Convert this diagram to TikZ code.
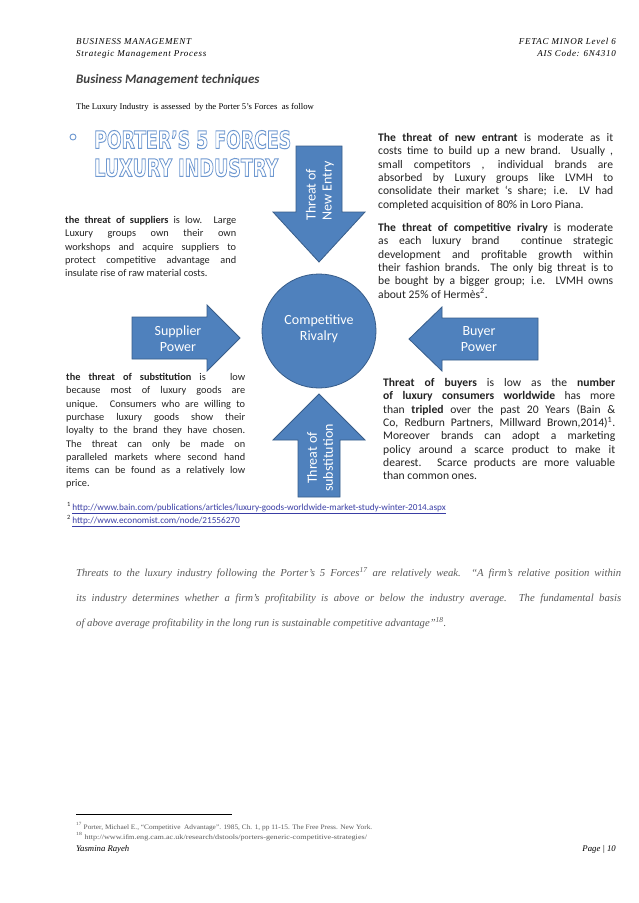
\documentclass[tikz,border=0pt]{standalone}
\usepackage{fontspec}
\usepackage{graphicx}
\setmainfont{Liberation Serif}
\newfontfamily\calibri{Carlito}
\newfontfamily\dejab{DejaVu Sans}
\newfontfamily\hdrfont{Liberation Serif}[LetterSpace=8]
\definecolor{arrowblue}{RGB}{79,129,189}
\definecolor{arrowedge}{RGB}{56,93,138}
\definecolor{titleblue}{RGB}{110,152,208}
\definecolor{titlegray}{RGB}{64,64,64}
\definecolor{paragray}{RGB}{89,89,89}
\definecolor{figgray}{RGB}{35,35,35}
\definecolor{linkblue}{RGB}{58,62,165}
\newlength{\blockw}
\newcommand{\JL}[1]{\hbox to \blockw{#1}}
\newcommand{\LL}[1]{\hbox{#1}}
\newcommand{\outlinetext}[1]{\special{pdf:literal direct 1 Tr 1.0 w}#1\special{pdf:literal direct 0 Tr 0.4 w}}
\tikzset{
  force/.style={fill=arrowblue, draw=arrowedge, line width=0.8pt, line join=miter},
  forcetext/.style={text=white, font=\calibri\fontsize{14}{16}\selectfont, inner sep=0},
  figtext/.style={anchor=base west, inner sep=0, text=figgray, font=\calibri\fontsize{10.3}{13.3}\selectfont},
  figtextr/.style={anchor=base west, inner sep=0, text=figgray, font=\calibri\fontsize{11.6}{13.3}\selectfont},
  pagetext/.style={anchor=base west, inner sep=0, text=black},
  hdr/.style={inner sep=0, font=\hdrfont\itshape\fontsize{9}{10}\selectfont},
}
\begin{document}
\begin{tikzpicture}[x=1pt,y=-1pt]
\path[use as bounding box, fill=white] (0,0) rectangle (638,903);

% ---------- header ----------
\node[hdr, anchor=base west] (hl1) at (76,44) {BUSINESS MANAGEMENT};
\node[hdr, anchor=base west] (hl2) at (76,56) {Strategic Management Process};
\node[hdr, anchor=base east] (hr1) at (616,44) {FETAC MINOR Level 6};
\node[hdr, anchor=base east] (hr2) at (616,56) {AIS Code: 6N4310};

\node[pagetext, text=titlegray, font=\calibri\bfseries\itshape\fontsize{13}{15}\selectfont] (ptitle) at (76,83) {Business Management techniques};
\node[pagetext, font=\fontsize{8.7}{10}\selectfont] (intro) at (76,109) {The Luxury Industry\ \ is assessed\ \ by the Porter 5's Forces\ \ as follow};

% ---------- figure title ----------
\node[circle, draw=titleblue, line width=0.9pt, minimum size=6pt, inner sep=0] (bullet) at (73,137) {};
\node[anchor=south west, inner sep=0] (ftitle1) at (94,149) {\color{titleblue}\resizebox{197pt}{18pt}{\dejab\bfseries\fontsize{24}{24}\selectfont\outlinetext{PORTER’S 5 FORCES}}};
\node[anchor=south west, inner sep=0] (ftitle2) at (94,177) {\color{titleblue}\resizebox{184pt}{18pt}{\dejab\bfseries\fontsize{24}{24}\selectfont\outlinetext{LUXURY INDUSTRY}}};

% ---------- forces ----------
\node[circle, fill=arrowblue, draw=arrowedge, line width=0.8pt, minimum size=114pt, inner sep=0] (rivalry) at (319,331) {};
\node[forcetext, align=center] (rivalrytxt) at (319,329) {Competitive\\Rivalry};

\fill[force] (296,146) -- (342,146) -- (342,212) -- (365,212) -- (319,262) -- (273,212) -- (296,212) -- cycle;
\node[forcetext, rotate=90, anchor=west, align=left] (newentry) at (320,221) {Threat of\\New Entry};

\fill[force] (319,394) -- (365,440) -- (340,440) -- (340,497) -- (298,497) -- (298,440) -- (273,440) -- cycle;
\node[forcetext, rotate=90, align=center] (substitution) at (320,458) {Threat of\\substitution};

\fill[force] (132,317) -- (207,317) -- (207,305) -- (240,338) -- (207,371) -- (207,359) -- (132,359) -- cycle;
\node[forcetext, align=center] (supplier) at (178,339) {Supplier\\Power};

\fill[force] (409,339) -- (442,307) -- (442,318) -- (538,318) -- (538,360) -- (442,360) -- (442,371) -- cycle;
\node[forcetext, align=center] (buyer) at (479,339) {Buyer\\Power};

% ---------- figure texts ----------
\node[figtextr] (tnew) at (378,141.5) {\setlength{\blockw}{235pt}\vtop{\baselineskip=13.3pt
\JL{\textbf{The threat of new entrant} is moderate as it}
\JL{costs time to build up a new brand.\ \ Usually ,}
\JL{small competitors , individual brands are}
\JL{absorbed by Luxury groups like LVMH to}
\JL{consolidate their market ‘s share; i.e.\ \ LV had}
\LL{completed acquisition of 80\% in Loro Piana.}}};

\node[figtextr] (trival) at (378,231.5) {\setlength{\blockw}{235pt}\vtop{\baselineskip=13.3pt
\JL{\textbf{The threat of competitive rivalry} is moderate}
\JL{as each luxury brand\ \ continue strategic}
\JL{development and profitable growth within}
\JL{their fashion brands. The only big threat is to}
\JL{be bought by a bigger group; i.e. LVMH owns}
\LL{about 25\% of Hermès\textsuperscript{2}.}}};

\node[figtext] (tsupp) at (65,223.5) {\setlength{\blockw}{171pt}\vtop{\baselineskip=13.3pt
\JL{\textbf{the threat of suppliers} is low. Large}
\JL{Luxury groups own their own}
\JL{workshops and acquire suppliers to}
\JL{protect competitive advantage and}
\LL{insulate rise of raw material costs.}}};

\node[figtext] (tsubst) at (66,380.5) {\setlength{\blockw}{179pt}\vtop{\baselineskip=13.3pt
\JL{\textbf{the threat of substitution} is\ \ \ low}
\JL{because most of luxury goods are}
\JL{unique. Consumers who are willing to}
\JL{purchase luxury goods show their}
\JL{loyalty to the brand they have chosen.}
\JL{The threat can only be made on}
\JL{paralleled markets where second hand}
\JL{items can be found as a relatively low}
\LL{price.}}};

\node[figtextr] (tbuy) at (383,386.5) {\setlength{\blockw}{232pt}\vtop{\baselineskip=13.3pt
\JL{\textbf{Threat of buyers} is low as the \textbf{number}}
\JL{\textbf{of luxury consumers worldwide} has more}
\JL{than \textbf{tripled} over the past 20 Years (Bain \&}
\JL{Co, Redburn Partners, Millward Brown,2014)\textsuperscript{1}.}
\JL{Moreover brands can adopt a marketing}
\JL{policy around a scarce product to make it}
\JL{dearest. Scarce products are more valuable}
\LL{than common ones.}}};

% ---------- figure footnotes ----------
\node[anchor=base west, inner sep=0, font=\calibri\fontsize{9.2}{10}\selectfont] (url1) at (67,510) {\textcolor{figgray}{\textsuperscript{1}}\,\textcolor{linkblue}{\underline{http://www.bain.com/publications/articles/luxury-goods-worldwide-market-study-winter-2014.aspx}}};
\node[anchor=base west, inner sep=0, font=\calibri\fontsize{9.2}{10}\selectfont] (url2) at (67,523) {\textcolor{figgray}{\textsuperscript{2}}\,\textcolor{linkblue}{\underline{http://www.economist.com/node/21556270}}};

% ---------- italic paragraph ----------
\node[anchor=base west, inner sep=0, text=paragray, font=\itshape\fontsize{10.7}{24}\selectfont] (para) at (76,576) {\setlength{\blockw}{545pt}\vtop{\baselineskip=25pt
\JL{Threats to the luxury industry following the Porter’s 5 Forces\textsuperscript{17} are relatively weak. “A firm’s relative position within}
\JL{its industry determines whether a firm’s profitability is above or below the industry average. The fundamental basis}
\LL{of above average profitability in the long run is sustainable competitive advantage”\textsuperscript{18}.}}};

% ---------- footnotes and footer ----------
\draw[line width=0.8pt] (76,814) -- (232,814);
\node[pagetext, text=paragray, font=\fontsize{6.8}{8}\selectfont] (fn17) at (76,829) {\scalebox{1.08}[1]{\textsuperscript{17} Porter, Michael E., “Competitive\ \ Advantage”. 1985, Ch. 1, pp 11-15. The Free Press. New York.}};
\node[pagetext, text=paragray, font=\fontsize{6.8}{8}\selectfont] (fn18) at (76,839) {\scalebox{1.2}[1]{\textsuperscript{18} http://www.ifm.eng.cam.ac.uk/research/dstools/porters-generic-competitive-strategies/}};
\node[pagetext, font=\itshape\fontsize{8.7}{10}\selectfont] (author) at (76,851) {Yasmina Rayeh};
\node[anchor=base east, inner sep=0, font=\itshape\fontsize{8.7}{10}\selectfont] (pageno) at (616,851) {Page | 10};
\end{tikzpicture}
\end{document}
